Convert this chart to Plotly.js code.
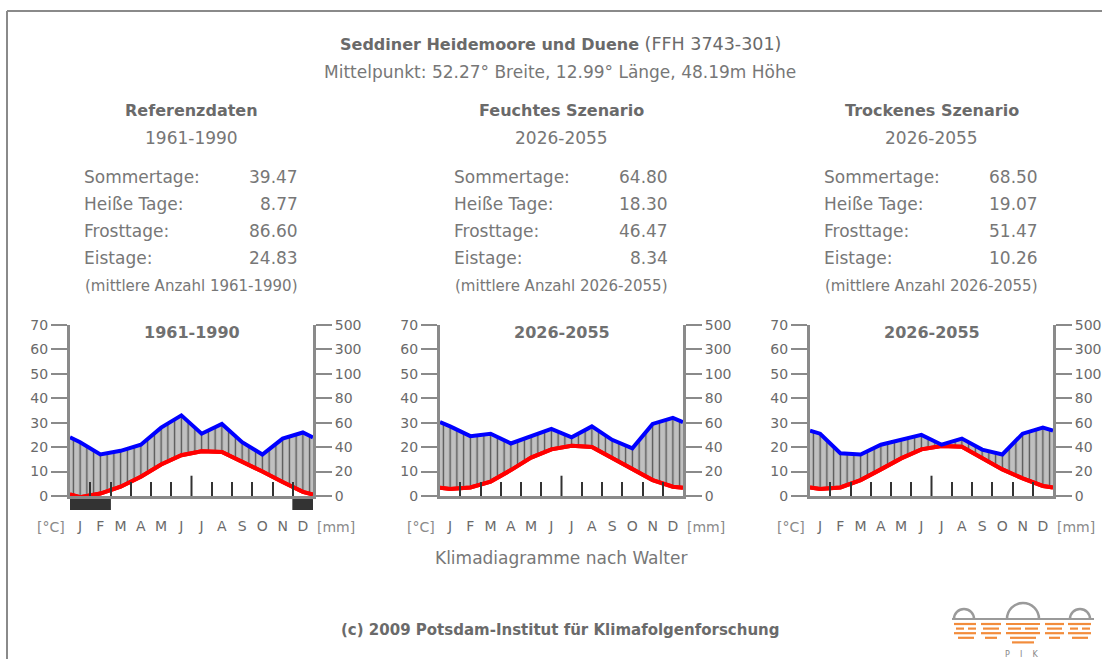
<!DOCTYPE html>
<html>
<head>
<meta charset="utf-8">
<script src="https://cdn.plot.ly/plotly-3.0.1.min.js"></script>
<style>
html,body{margin:0;padding:0;background:#fff;}
#chart{width:1102px;height:659px;}
</style>
</head>
<body>
<div id="chart"></div>
<script>
// ---------------- data ----------------
const months = ['J','F','M','A','M','J','J','A','S','O','N','D'];

const scenarioNames   = ['Referenzdaten', 'Feuchtes Szenario', 'Trockenes Szenario'];
const scenarioPeriods = ['1961-1990', '2026-2055', '2026-2055'];
const panelTitles     = ['1961-1990', '2026-2055', '2026-2055'];
const statNotes       = ['(mittlere Anzahl 1961-1990)', '(mittlere Anzahl 2026-2055)', '(mittlere Anzahl 2026-2055)'];

const statLabels = ['Sommertage:', 'Heiße Tage:', 'Frosttage:', 'Eistage:'];
const statsRef = [39.47, 8.77, 86.60, 24.83];
const statsWet = [64.80, 18.30, 46.47, 8.34];
const statsDry = [68.50, 19.07, 51.47, 10.26];

// monthly mean temperature [°C]
const tempRef = [-0.5, 1.0, 3.8, 7.9, 12.9, 16.7, 18.3, 18.0, 14.1, 10.0, 5.7, 1.7];
const tempWet = [2.9, 3.5, 5.9, 10.6, 15.7, 19.1, 20.6, 20.1, 15.5, 10.7, 6.5, 3.8];
const tempDry = [2.9, 3.5, 6.5, 10.9, 15.4, 19.1, 20.5, 20.2, 15.4, 10.9, 7.2, 4.1];

// monthly precipitation [mm]
const precRef = [44, 34, 37, 42, 56, 66, 51, 59, 44, 34, 47, 52];
const precWet = [57, 49, 51, 43, 49, 55, 48, 57, 46, 39, 59, 64];
const precDry = [51, 35, 34, 42, 46, 50, 42, 47, 38, 34, 51, 56];

// months with frost (black bar below the axis)
const frostRef = [1, 1, 0, 0, 0, 0, 0, 0, 0, 0, 0, 1];
const frostWet = [0, 0, 0, 0, 0, 0, 0, 0, 0, 0, 0, 0];
const frostDry = [0, 0, 0, 0, 0, 0, 0, 0, 0, 0, 0, 0];

const tempTickVals  = [0, 10, 20, 30, 40, 50, 60, 70];
const precTickVals  = [0, 20, 40, 60, 80, 100, 120, 140];
const precTickText  = ['0', '20', '40', '60', '80', '100', '300', '500'];

// ---------------- layout helpers ----------------
const W = 1102, H = 659;
const px = x => x / W;
const py = y => 1 - y / H;
const FONT = 'DejaVu Sans, Liberation Sans, Arial, sans-serif';
const GREY = '#707070';
const AXC = '#8a8a8a';

const panels = [
  {temp: tempRef, prec: precRef, frost: frostRef, stats: statsRef},
  {temp: tempWet, prec: precWet, frost: frostWet, stats: statsWet},
  {temp: tempDry, prec: precDry, frost: frostDry, stats: statsDry}
];
const panelLeft = [70, 440, 810];
const PW = 243, PTOP = 325, PBOT = 496;

const centers = months.map((m, i) => i + 0.5);
const xs = [0].concat(centers, [12]);
// curves run to the diagram edges with the Dec/Jan mean
function withEdges(v) { const e = (v[0] + v[11]) / 2; return [e].concat(v, [e]); }

const axName = (l, n) => l + 'axis' + (n === 1 ? '' : n);
const axRef  = (l, n) => l + (n === 1 ? '' : n);

const data = [];
const layout = {
  width: W, height: H,
  margin: {l: 0, r: 0, t: 0, b: 0},
  paper_bgcolor: '#ffffff',
  plot_bgcolor: 'rgba(0,0,0,0)',
  showlegend: false,
  font: {family: FONT, color: GREY},
  annotations: [],
  shapes: []
};

function ann(text, x, y, size, opts) {
  layout.annotations.push(Object.assign({
    text: text, x: px(x), y: py(y), xref: 'paper', yref: 'paper',
    showarrow: false, xanchor: 'center', yanchor: 'middle',
    font: {family: FONT, size: size, color: GREY}
  }, opts || {}));
}

panels.forEach((p, i) => {
  const L = panelLeft[i];
  const xMain = 2 * i + 1, xStrip = 2 * i + 2;
  const yMain = 3 * i + 1, yRight = 3 * i + 2, yStrip = 3 * i + 3;
  const dom = [px(L), px(L + PW)];
  const tickfont = {family: FONT, size: 14, color: '#6a6a6a'};

  layout[axName('x', xMain)] = {
    domain: dom, range: [0, 12], anchor: axRef('y', yMain),
    showline: true, linecolor: AXC, linewidth: 3,
    ticks: 'inside', tickvals: [1, 2, 3, 4, 5, 7, 8, 9, 10, 11],
    ticklen: 14, tickwidth: 2, tickcolor: '#333333',
    showticklabels: false, showgrid: false, zeroline: false, fixedrange: true
  };
  layout[axName('y', yMain)] = {
    domain: [py(PBOT), py(PTOP)], range: [0, 70], anchor: axRef('x', xMain),
    showline: true, linecolor: AXC, linewidth: 3,
    ticks: 'outside', tickvals: tempTickVals, ticklen: 16, tickwidth: 2, tickcolor: AXC,
    tickfont: tickfont, showgrid: false, zeroline: false, fixedrange: true
  };
  // precipitation axis (Walter scale: 20 mm = 10 °C up to 100 mm, compressed above)
  layout[axName('y', yRight)] = {
    overlaying: axRef('y', yMain), side: 'right', anchor: axRef('x', xMain),
    range: [0, 140],
    showline: true, linecolor: AXC, linewidth: 3,
    ticks: 'outside', tickvals: precTickVals, ticktext: precTickText,
    ticklen: 16, tickwidth: 2, tickcolor: AXC,
    tickfont: tickfont, showgrid: false, zeroline: false, fixedrange: true
  };
  layout[axName('x', xStrip)] = {
    domain: dom, range: [0, 12], anchor: axRef('y', yStrip),
    showline: false, ticks: '', tickvals: centers, ticktext: months,
    tickfont: {family: FONT, size: 14, color: '#6a6a6a'}, ticklabelstandoff: 6,
    showgrid: false, zeroline: false, fixedrange: true
  };
  layout[axName('y', yStrip)] = {
    domain: [py(510), py(499)], range: [0, 1], visible: false, fixedrange: true
  };

  // temperature curve
  data.push({
    type: 'scatter', mode: 'lines', x: xs, y: withEdges(p.temp),
    xaxis: axRef('x', xMain), yaxis: axRef('y', yMain),
    line: {color: '#ff0000', width: 4}, hoverinfo: 'skip'
  });
  // humid area (precipitation above temperature), hatched
  data.push({
    type: 'scatter', mode: 'lines', x: xs, y: withEdges(p.prec).map(v => v / 2),
    xaxis: axRef('x', xMain), yaxis: axRef('y', yMain),
    line: {color: 'rgba(0,0,0,0)', width: 0},
    fill: 'tonexty', fillcolor: '#c0c0c0',
    fillpattern: {shape: '|', size: 6.75, solidity: 0.2, fgcolor: '#555555', bgcolor: '#c0c0c0', fillmode: 'replace'},
    hoverinfo: 'skip'
  });
  // temperature line again on top of the hatching
  data.push({
    type: 'scatter', mode: 'lines', x: xs, y: withEdges(p.temp),
    xaxis: axRef('x', xMain), yaxis: axRef('y', yMain),
    line: {color: '#ff0000', width: 4}, hoverinfo: 'skip'
  });
  // precipitation curve on the right axis [mm]
  data.push({
    type: 'scatter', mode: 'lines', x: xs, y: withEdges(p.prec),
    xaxis: axRef('x', xMain), yaxis: axRef('y', yRight),
    line: {color: '#0000ff', width: 4}, hoverinfo: 'skip'
  });
  // frost months
  const fx = [], fy = [];
  p.frost.forEach((f, k) => { if (f) { fx.push(centers[k]); fy.push(1); } });
  data.push({
    type: 'bar', x: fx.length ? fx : [0.5], y: fx.length ? fy : [0], width: 1.04,
    xaxis: axRef('x', xStrip), yaxis: axRef('y', yStrip),
    marker: {color: '#333333', line: {width: 0}}, hoverinfo: 'skip'
  });

  // mid-year tick (longer)
  layout.shapes.push({
    type: 'line', xref: axRef('x', xMain), yref: axRef('y', yMain),
    x0: 6, x1: 6, y0: 0, y1: 8.3, line: {color: '#333333', width: 2}, layer: 'above'
  });

  const cx = L + PW / 2;
  ann('<b>' + panelTitles[i] + '</b>', cx, 332, 16, {font: {family: FONT, size: 16, color: '#707070'}});
  ann('[°C]', L - 3, 527, 14, {xanchor: 'right', font: {family: FONT, size: 14, color: '#8a8a8a'}});
  ann('[mm]', L + PW + 2, 527, 14, {xanchor: 'left', font: {family: FONT, size: 14, color: '#8a8a8a'}});

  ann('<b>' + scenarioNames[i] + '</b>', cx, 110, 16, {font: {family: FONT, size: 16, color: '#6a6a6a'}});
  ann(scenarioPeriods[i], cx, 138, 17, {font: {family: FONT, size: 17, color: '#777777'}});
  statLabels.forEach((lab, k) => {
    const yy = 177 + 27 * k;
    ann(lab, L + 12, yy, 17, {xanchor: 'left', font: {family: FONT, size: 17, color: '#777777'}});
    ann(p.stats[k].toFixed(2), L + 230, yy, 17, {xanchor: 'right', font: {family: FONT, size: 17, color: '#777777'}});
  });
  ann(statNotes[i], cx, 286, 15, {font: {family: FONT, size: 15, color: '#777777'}});
});

// header, footer
ann('<b>Seddiner Heidemoore und Duene</b><span style="font-size:17.5px"> (FFH 3743-301)</span>', 560, 44, 16,
    {font: {family: FONT, size: 16, color: '#6a6a6a'}});
ann('Mittelpunkt: 52.27° Breite, 12.99° Länge, 48.19m Höhe', 560, 72, 17, {font: {family: FONT, size: 17, color: '#777777'}});
ann('Klimadiagramme nach Walter', 561, 558, 17, {font: {family: FONT, size: 17, color: '#777777'}});
ann('<b>(c) 2009 Potsdam-Institut für Klimafolgenforschung</b>', 560, 630, 15, {font: {family: FONT, size: 15, color: '#6a6a6a'}});

// frame
layout.shapes.push({type: 'line', xref: 'paper', yref: 'paper', x0: px(7), x1: px(1102), y0: py(11), y1: py(11), line: {color: '#8a8a8a', width: 2}});
layout.shapes.push({type: 'line', xref: 'paper', yref: 'paper', x0: px(7), x1: px(7), y0: py(11), y1: py(659), line: {color: '#8a8a8a', width: 2}});

// PIK logo
function P(x, y) { return px(x).toFixed(5) + ',' + py(y).toFixed(5); }
function dome(cx, by, r) {
  const k = 0.552 * r;
  return 'M' + P(cx - r, by) + ' C' + P(cx - r, by - k) + ' ' + P(cx - k, by - r) + ' ' + P(cx, by - r) +
         ' C' + P(cx + k, by - r) + ' ' + P(cx + r, by - k) + ' ' + P(cx + r, by);
}
[[964, 619, 10], [1023, 619, 16], [1080, 619, 10]].forEach(d => {
  layout.shapes.push({type: 'path', xref: 'paper', yref: 'paper', path: dome(d[0], d[1], d[2]), line: {color: '#9a9a9a', width: 2.5}});
});
layout.shapes.push({type: 'line', xref: 'paper', yref: 'paper', x0: px(952), x1: px(1094), y0: py(619), y1: py(619), line: {color: '#9a9a9a', width: 2}});
const logoRows = [
  [[954, 976], [981, 1001], [1006, 1040], [1045, 1064], [1068, 1091]],
  [[956, 964], [968, 976], [983, 999], [1008, 1021], [1025, 1038], [1047, 1062], [1070, 1078], [1082, 1090]],
  [[954, 976], [981, 1001], [1006, 1040], [1045, 1064], [1068, 1091]],
  [[958, 974], [985, 997], [1010, 1036], [1049, 1060], [1072, 1088]],
  [[1012, 1034]]
];
logoRows.forEach((row, r) => {
  const yy = 624 + 4.6 * r;
  row.forEach(seg => layout.shapes.push({type: 'line', xref: 'paper', yref: 'paper',
    x0: px(seg[0]), x1: px(seg[1]), y0: py(yy), y1: py(yy), line: {color: '#f28c3c', width: 2.2}}));
});
ann('P&nbsp;&nbsp;&nbsp;&nbsp;I&nbsp;&nbsp;&nbsp;&nbsp;K', 1022, 654, 8, {font: {family: FONT, size: 8, color: '#888888'}});

Plotly.newPlot('chart', data, layout, {staticPlot: true, displayModeBar: false});
</script>
</body>
</html>
